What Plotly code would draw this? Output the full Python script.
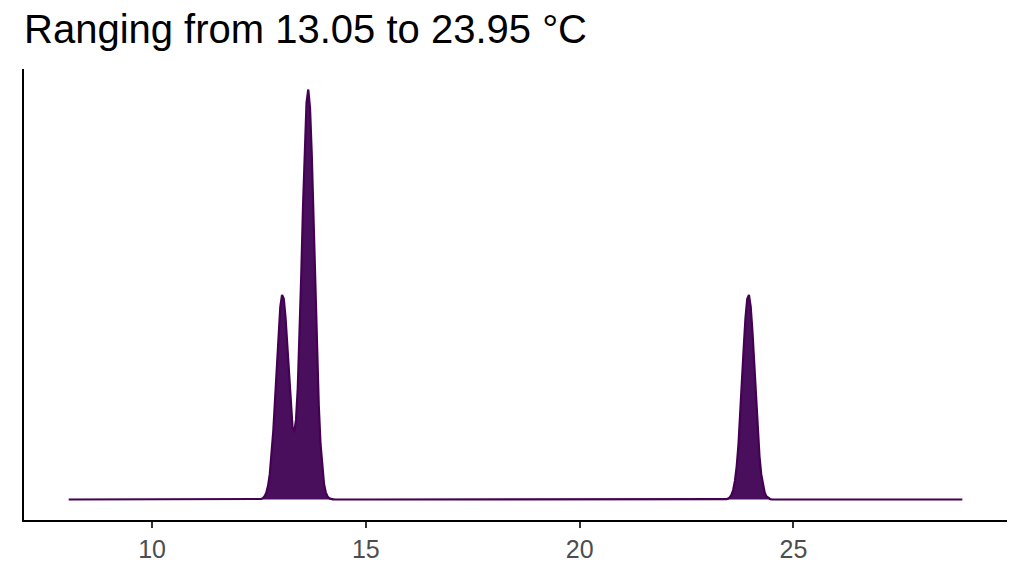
import numpy as np
import plotly.graph_objects as go

# Temperature observations (°C) and their counts
temps = [13.05, 13.65, 23.95]
counts = [1, 2, 1]
bandwidth = 0.145
tick_vals = [10, 15, 20, 25]
tick_text = ["10", "15", "20", "25"]
title_text = "Ranging from 13.05 to 23.95 °C"

# Kernel density estimate (like ggplot2 geom_density), over min-5 .. max+5
obs = np.repeat(temps, counts)
x = np.linspace(min(temps) - 5, max(temps) + 5, 512)
dens = np.exp(-0.5 * ((x[:, None] - obs[None, :]) / bandwidth) ** 2).sum(axis=1)
dens /= (len(obs) * bandwidth * np.sqrt(2 * np.pi))

xmin, xmax = x.min(), x.max()
xpad = 0.05 * (xmax - xmin)
dmax = dens.max()

fig = go.Figure()
fig.add_trace(go.Scatter(
    x=x, y=dens, mode="lines", fill="tozeroy",
    line=dict(color="#440154", width=2.2),
    fillcolor="#4A0F5C", hoverinfo="skip", showlegend=False,
))

fig.update_layout(
    width=1024, height=576,
    margin=dict(l=24, r=17, t=69, b=56),
    paper_bgcolor="white", plot_bgcolor="white",
    font=dict(family="Liberation Sans, Arial, sans-serif"),
    title=dict(text=title_text, x=0, xref="paper", xanchor="left",
               y=1 - 15 / 576, yref="container", yanchor="top",
               font=dict(size=40, color="black")),
    xaxis=dict(range=[xmin - xpad, xmax + xpad], showgrid=False, zeroline=False,
               showline=True, linecolor="black", linewidth=2.2,
               ticks="outside", ticklen=6, tickwidth=2, tickcolor="#333333",
               tickvals=tick_vals, ticktext=tick_text,
               tickfont=dict(size=25, color="#4d4d4d")),
    yaxis=dict(range=[-0.05 * dmax, 1.05 * dmax], showgrid=False, zeroline=False,
               showline=True, linecolor="black", linewidth=2.2,
               showticklabels=False, ticks=""),
)

fig.write_html("out.html", config={"displayModeBar": False},
               post_script="document.body.style.margin='0px';")
